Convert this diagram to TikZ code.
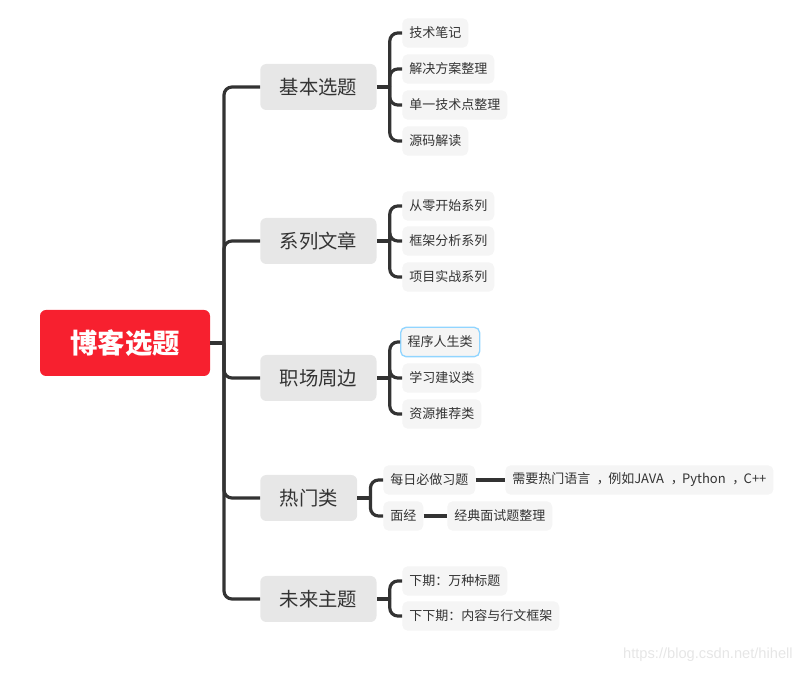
\documentclass[tikz,border=0pt]{standalone}
\usepackage{fontspec}
\setmainfont{Noto Sans CJK SC}
\newfontfamily\wmfont{Liberation Sans}
\usetikzlibrary{calc}
\definecolor{rootred}{HTML}{F7202F}
\definecolor{linec}{HTML}{333333}
\definecolor{branchfill}{HTML}{E7E7E7}
\definecolor{leaffill}{HTML}{F5F5F5}
\definecolor{hlborder}{HTML}{91D5FF}
\definecolor{txt}{HTML}{333333}
\definecolor{wm}{HTML}{E6E6E6}
\newcommand{\cm}{\hspace{5pt}\rlap{，}\hspace{8.5pt}}
\begin{document}
\begin{tikzpicture}[x=0.75pt,y=-0.75pt,
  rootbox/.style={fill=rootred,rounded corners=4.5pt,minimum width=127.5pt,minimum height=49.5pt,
    text=white,font=\fontsize{20.5pt}{24pt}\selectfont\bfseries,inner sep=0pt},
  branchbox/.style={fill=branchfill,rounded corners=4.5pt,minimum height=34.5pt,inner xsep=14.6pt,
    text=txt,font=\fontsize{14.5pt}{17pt}\selectfont,anchor=west},
  leafbox/.style={fill=leaffill,rounded corners=4pt,minimum height=22pt,inner xsep=5.25pt,
    text=txt,font=\fontsize{9.75pt}{12pt}\selectfont,anchor=west},
  hl/.style={draw=hlborder,line width=1pt},
  conn/.style={draw=linec,line width=2.4pt,rounded corners=6pt},
]
\useasboundingbox (0,0) rectangle (801,673);

% root
\node[rootbox] (root) at (125,343) {博客选题};

% branches
\node[branchbox] (b1) at (260,87) {基本选题};
\node[branchbox] (b2) at (260,241) {系列文章};
\node[branchbox] (b3) at (260,378) {职场周边};
\node[branchbox] (b4) at (260,498) {热门类};
\node[branchbox] (b5) at (260,599) {未来主题};

% leaves of b1
\node[leafbox] (l11) at (402,33) {技术笔记};
\node[leafbox] (l12) at (402,69) {解决方案整理};
\node[leafbox] (l13) at (402,105) {单一技术点整理};
\node[leafbox] (l14) at (402,141) {源码解读};
% leaves of b2
\node[leafbox] (l21) at (402,206) {从零开始系列};
\node[leafbox] (l22) at (402,241) {框架分析系列};
\node[leafbox] (l23) at (402,277) {项目实战系列};
% leaves of b3
\node[leafbox,hl] (l31) at (400,342) {程序人生类};
\node[leafbox] (l32) at (402,378) {学习建议类};
\node[leafbox] (l33) at (402,414) {资源推荐类};
% leaves of b4
\node[leafbox] (l41) at (383,480) {每日必做习题};
\node[leafbox] (l42) at (383,516) {面经};
\node[leafbox] (l411) at (505,480) {需要热门语言\cm 例如JAVA\cm Python\cm C++};
\node[leafbox] (l421) at (447,516) {经典面试题整理};
% leaves of b5
\node[leafbox] (l51) at (402,581) {下期：万种标题};
\node[leafbox] (l52) at (402,616) {下下期：内容与行文框架};

% spine
\coordinate (sp) at (224,343);
\draw[conn] (root.east) -- (sp);
\foreach \b in {b1,b2,b3,b4,b5}{
  \draw[conn] (sp) |- (\b.west);
}

% brackets
\coordinate (j1) at ($(b1.east)+(13,0)$);
\draw[conn] (b1.east) -- (j1);
\foreach \l in {l11,l12,l13,l14}{ \draw[conn] (j1) |- (\l.west); }

\coordinate (j2) at ($(b2.east)+(13,0)$);
\draw[conn] (b2.east) -- (j2);
\foreach \l in {l21,l22,l23}{ \draw[conn] (j2) |- (\l.west); }

\coordinate (j3) at ($(b3.east)+(13,0)$);
\draw[conn] (b3.east) -- (j3);
\foreach \l in {l31,l32,l33}{ \draw[conn] (j3) |- (\l.west); }

\coordinate (j4) at ($(b4.east)+(13,0)$);
\draw[conn] (b4.east) -- (j4);
\foreach \l in {l41,l42}{ \draw[conn] (j4) |- (\l.west); }
\draw[conn] (l41.east) -- (l411.west);
\draw[conn] (l42.east) -- (l421.west);

\coordinate (j5) at ($(b5.east)+(13,0)$);
\draw[conn] (b5.east) -- (j5);
\foreach \l in {l51,l52}{ \draw[conn] (j5) |- (\l.west); }

% watermark
\node[anchor=east,text=wm,font=\wmfont\fontsize{11pt}{13pt}\selectfont,inner sep=0pt] (wmk) at (793,655) {https://blog.csdn.net/hihell};
\end{tikzpicture}
\end{document}
